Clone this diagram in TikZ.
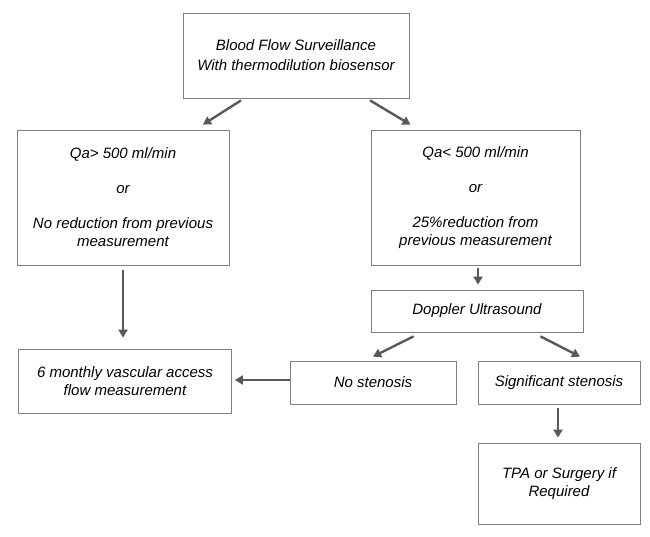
\documentclass[tikz,border=0pt]{standalone}
\usepackage{fontspec}
\setmainfont{Liberation Sans}
\definecolor{boxline}{RGB}{128, 128, 128}
\definecolor{arrowgray}{RGB}{89, 89, 89}
\usetikzlibrary{arrows.meta, positioning, calc}

\begin{document}
\begin{tikzpicture}[
        x=1pt, y=-1pt,
        box/.style={draw=boxline, line width=0.8pt, fill=white, align=center, font=\itshape\fontsize{15}{18}\selectfont, inner sep=2pt},
        arrow/.style={-{Triangle[length=8pt, width=9pt]}, line width=2.4pt, arrowgray}
    ]
        \useasboundingbox[fill=white] (0,0) rectangle (650,536);

        % Top: surveillance
        \node[box, minimum width=226pt, minimum height=85pt] (surv) at (296,55.5) {Blood Flow Surveillance\\[2pt]With thermodilution biosensor};

        % Row 2: the two flow outcomes
        \node[box, minimum width=212pt, minimum height=135pt] (high) at (123,197.5) {Qa> 500 ml/min\\[17pt]or\\[17pt]No reduction from previous\\measurement};
        \node[box, minimum width=209pt, minimum height=135pt] (low) at (475.5,197.5) {Qa< 500 ml/min\\[17pt]or\\[17pt]25\%reduction from\\previous measurement};

        % Doppler and its results
        \node[box, minimum width=212pt, minimum height=42pt] (doppler) at (477,311) {Doppler Ultrasound};
        \node[box, minimum width=166pt, minimum height=43pt] (nosten) at (373,382.5) {No stenosis};
        \node[box, minimum width=162pt, minimum height=43pt] (sigsten) at (559,382.5) {Significant stenosis};

        % Outcomes
        \node[box, minimum width=213pt, minimum height=64pt] (monthly) at (125,381) {6 monthly vascular access\\flow measurement};
        \node[box, minimum width=162pt, minimum height=81pt] (tpa) at (559,483.5) {TPA or Surgery if\\Required};

        % Arrows
        \draw[arrow] ([xshift=-55pt, yshift=-2pt]surv.south) -- ([xshift=80pt, yshift=5pt]high.north);
        \draw[arrow] ([xshift=74pt, yshift=-2pt]surv.south) -- ([xshift=-65pt, yshift=5pt]low.north);
        \draw[arrow, shorten <=5pt, shorten >=11pt] (high.south) -- (high.south |- monthly.north);
        \draw[arrow] ([xshift=2.5pt, yshift=-3pt]low.south) -- ([xshift=1pt, yshift=5pt]doppler.north);
        \draw[arrow] ([xshift=-63.5pt, yshift=-4pt]doppler.south) -- ([xshift=0pt, yshift=4pt]nosten.north);
        \draw[arrow] ([xshift=63.5pt, yshift=-4pt]doppler.south) -- ([xshift=21pt, yshift=4pt]sigsten.north);
        \draw[arrow, shorten >=3pt] ([yshift=2.5pt]nosten.west) -- ([yshift=2.5pt]nosten.west -| monthly.east);
        \draw[arrow] ([xshift=-1pt, yshift=-4pt]sigsten.south) -- ([xshift=-1pt, yshift=5pt]tpa.north);
    \end{tikzpicture}
\end{document}
